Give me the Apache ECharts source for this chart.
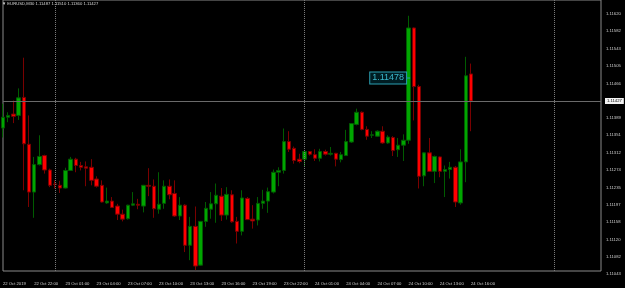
<!DOCTYPE html>
<html>
<head>
<meta charset="utf-8">
<script src="https://cdn.jsdelivr.net/npm/echarts@6/dist/echarts.min.js"></script>
<style>
  html, body { margin: 0; padding: 0; background: #000; }
  #chart { width: 625px; height: 288px; }
</style>
</head>
<body>
<div id="chart"></div>
<script>
const symbolName = 'EURUSD,M30';

// candles, 22 Oct 19:00 .. 24 Oct 16:00, 30 min bars
const opens = [
  1.11367, 1.11391, 1.11398, 1.11395, 1.11435, 1.11331, 1.11225, 1.11286, 1.11306, 1.11274,
  1.11243, 1.11240, 1.11234, 1.11273, 1.11298, 1.11284, 1.11281, 1.11280, 1.11254, 1.11240,
  1.11201, 1.11205, 1.11194, 1.11176, 1.11166, 1.11196, 1.11198, 1.11194, 1.11240, 1.11238,
  1.11187, 1.11200, 1.11238, 1.11222, 1.11172, 1.11196, 1.11107, 1.11149, 1.11063, 1.11160,
  1.11187, 1.11199, 1.11216, 1.11174, 1.11219, 1.11160, 1.11138, 1.11211, 1.11165, 1.11163,
  1.11200, 1.11205, 1.11225, 1.11269, 1.11273, 1.11337, 1.11322, 1.11298, 1.11298, 1.11315,
  1.11308, 1.11300, 1.11315, 1.11309, 1.11311, 1.11297, 1.11306, 1.11336, 1.11375, 1.11402,
  1.11364, 1.11351, 1.11349, 1.11360, 1.11334, 1.11346, 1.11319, 1.11329, 1.11340, 1.11589,
  1.11459, 1.11261, 1.11312, 1.11271, 1.11303, 1.11271, 1.11275, 1.11280, 1.11201, 1.11292,
  1.11487
];
const highs = [
  1.11421, 1.11402, 1.11428, 1.11455, 1.11523, 1.11395, 1.11303, 1.11351, 1.11308, 1.11277,
  1.11251, 1.11250, 1.11279, 1.11303, 1.11301, 1.11292, 1.11293, 1.11298, 1.11260, 1.11251,
  1.11235, 1.11214, 1.11199, 1.11186, 1.11197, 1.11225, 1.11210, 1.11241, 1.11278, 1.11253,
  1.11269, 1.11251, 1.11253, 1.11251, 1.11214, 1.11198, 1.11170, 1.11193, 1.11160, 1.11203,
  1.11225, 1.11244, 1.11234, 1.11236, 1.11229, 1.11170, 1.11229, 1.11214, 1.11196, 1.11214,
  1.11230, 1.11235, 1.11275, 1.11280, 1.11366, 1.11360, 1.11326, 1.11310, 1.11317, 1.11316,
  1.11320, 1.11321, 1.11319, 1.11325, 1.11312, 1.11314, 1.11363, 1.11378, 1.11410, 1.11404,
  1.11371, 1.11360, 1.11362, 1.11371, 1.11351, 1.11349, 1.11345, 1.11353, 1.11616, 1.11590,
  1.11463, 1.11313, 1.11345, 1.11306, 1.11304, 1.11284, 1.11292, 1.11283, 1.11320, 1.11525,
  1.11510
];
const lows = [
  1.11346, 1.11380, 1.11378, 1.11385, 1.11229, 1.11192, 1.11168, 1.11284, 1.11266, 1.11236,
  1.11233, 1.11223, 1.11233, 1.11272, 1.11269, 1.11273, 1.11238, 1.11240, 1.11235, 1.11202,
  1.11199, 1.11190, 1.11163, 1.11160, 1.11164, 1.11194, 1.11187, 1.11180, 1.11216, 1.11168,
  1.11177, 1.11188, 1.11209, 1.11170, 1.11163, 1.11092, 1.11074, 1.11052, 1.11062, 1.11148,
  1.11166, 1.11157, 1.11161, 1.11164, 1.11157, 1.11111, 1.11129, 1.11163, 1.11144, 1.11151,
  1.11188, 1.11179, 1.11222, 1.11238, 1.11266, 1.11314, 1.11288, 1.11289, 1.11281, 1.11306,
  1.11294, 1.11293, 1.11306, 1.11306, 1.11282, 1.11291, 1.11305, 1.11334, 1.11373, 1.11362,
  1.11341, 1.11345, 1.11348, 1.11332, 1.11332, 1.11305, 1.11303, 1.11294, 1.11332, 1.11384,
  1.11233, 1.11238, 1.11270, 1.11245, 1.11258, 1.11214, 1.11255, 1.11192, 1.11197, 1.11247,
  1.11360
];
const closes = [
  1.11391, 1.11395, 1.11393, 1.11434, 1.11332, 1.11225, 1.11286, 1.11304, 1.11274, 1.11240,
  1.11242, 1.11234, 1.11273, 1.11298, 1.11284, 1.11280, 1.11278, 1.11251, 1.11238, 1.11203,
  1.11205, 1.11191, 1.11176, 1.11165, 1.11196, 1.11199, 1.11196, 1.11240, 1.11238, 1.11188,
  1.11198, 1.11238, 1.11219, 1.11172, 1.11196, 1.11107, 1.11149, 1.11061, 1.11160, 1.11189,
  1.11199, 1.11218, 1.11174, 1.11220, 1.11159, 1.11138, 1.11212, 1.11164, 1.11161, 1.11200,
  1.11205, 1.11226, 1.11269, 1.11273, 1.11337, 1.11320, 1.11295, 1.11293, 1.11315, 1.11309,
  1.11300, 1.11315, 1.11309, 1.11311, 1.11298, 1.11308, 1.11337, 1.11377, 1.11402, 1.11364,
  1.11349, 1.11352, 1.11360, 1.11334, 1.11347, 1.11317, 1.11329, 1.11340, 1.11589, 1.11459,
  1.11260, 1.11312, 1.11271, 1.11304, 1.11271, 1.11275, 1.11280, 1.11203, 1.11292, 1.11483,
  1.11427
];

const xTickTimes = [
  '22 Oct 19:00', '22 Oct 22:00', '23 Oct 01:00', '23 Oct 04:00', '23 Oct 07:00', '23 Oct 10:00',
  '23 Oct 13:00', '23 Oct 16:00', '23 Oct 19:00', '23 Oct 22:00', '24 Oct 01:00', '24 Oct 04:00',
  '24 Oct 07:00', '24 Oct 10:00', '24 Oct 13:00', '24 Oct 16:00'
];
const firstTickLabel = '22 Oct 2019';
const separators = ['23 Oct 00:00', '24 Oct 00:00', '25 Oct 00:00'];

const yTicks = [
  1.11082, 1.11120, 1.11158, 1.11197, 1.11235, 1.11274, 1.11312, 1.11351,
  1.11389, 1.11428, 1.11466, 1.11505, 1.11543, 1.11582, 1.11620
];
const yBottomLabel = '1.11043';
const priceLabel = 1.11478;

// time slots incl. empty space right of the last bar
const months = ['Jan', 'Feb', 'Mar', 'Apr', 'May', 'Jun', 'Jul', 'Aug', 'Sep', 'Oct', 'Nov', 'Dec'];
const startTime = Date.UTC(2019, 9, 22, 19, 0);
const slotCount = 116;
const pad = (n) => String(n).padStart(2, '0');
const slots = [];
for (let i = 0; i < slotCount; i += 1) {
  const d = new Date(startTime + i * 30 * 60000);
  slots.push(`${d.getUTCDate()} ${months[d.getUTCMonth()]} ${pad(d.getUTCHours())}:${pad(d.getUTCMinutes())}`);
}

const candles = opens.map((o, i) => [o, closes[i], lows[i], highs[i]]);
const lastIndex = candles.length - 1;
const fmt = (v) => v.toFixed(5);
const titleText = `\u25BC ${symbolName} ${fmt(opens[lastIndex])} ${fmt(highs[lastIndex])} ${fmt(lows[lastIndex])} ${fmt(closes[lastIndex])}`;

const chart = echarts.init(document.getElementById('chart'));

chart.setOption({
  animation: false,
  backgroundColor: '#000000',
  textStyle: { fontFamily: 'Liberation Sans' },
  title: {
    text: titleText,
    left: 2,
    top: 2,
    padding: 0,
    textStyle: { color: '#d8d8d8', fontSize: 4.2, fontWeight: 'normal', fontFamily: 'Liberation Sans' }
  },
  grid: {
    left: 1,
    right: 24,
    top: -1,
    bottom: 17,
    show: true,
    borderColor: '#8a8a8a',
    borderWidth: 1,
    backgroundColor: 'transparent'
  },
  xAxis: {
    type: 'category',
    data: slots,
    boundaryGap: false,
    axisLine: { show: false },
    axisTick: { show: false },
    splitLine: { show: false },
    axisLabel: {
      color: '#cfcfcf',
      fontSize: 4.2,
      align: 'left',
      margin: 11,
      interval: (index, value) => xTickTimes.includes(value),
      formatter: (value) => (value === xTickTimes[0] ? firstTickLabel : value)
    }
  },
  yAxis: {
    type: 'value',
    position: 'right',
    min: 1.11050,
    max: 1.11651,
    scale: true,
    axisLine: { show: false },
    axisTick: { show: false },
    splitLine: { show: false },
    axisLabel: {
      color: '#cfcfcf',
      fontSize: 4.2,
      margin: 5,
      customValues: yTicks,
      formatter: (v) => v.toFixed(5)
    },
    name: yBottomLabel,
    nameLocation: 'start',
    nameGap: 3,
    nameTextStyle: { color: '#cfcfcf', fontSize: 4.2, align: 'left', verticalAlign: 'middle', padding: [0, 0, 0, 5] }
  },
  series: [
    {
      type: 'candlestick',
      data: candles,
      barWidth: 4,
      itemStyle: {
        color: '#00a600',
        color0: '#ff0000',
        borderColor: '#005c00',
        borderColor0: '#7a0000',
        borderWidth: 1
      },
      markLine: {
        silent: true,
        symbol: 'none',
        precision: 5,
        animation: false,
        data: [
          {
            yAxis: closes[lastIndex],
            lineStyle: { color: '#6a6a6a', width: 1, type: 'solid' },
            label: {
              show: true,
              position: 'end',
              distance: 4,
              formatter: () => fmt(closes[lastIndex]),
              color: '#000000',
              backgroundColor: '#f2f2f2',
              fontSize: 4.2,
              padding: [1, 2]
            }
          },
          ...separators.map((t) => ({
            xAxis: t,
            lineStyle: { color: '#7a7a7a', width: 1, type: 'dotted' },
            label: { show: false }
          }))
        ]
      },
      markPoint: {
        silent: true,
        symbol: 'rect',
        symbolSize: [3, 1],
        itemStyle: { color: '#2a9fb2' },
        data: [
          {
            coord: [slots[78], priceLabel],
            label: {
              show: true,
              position: 'left',
              distance: 1,
              formatter: () => fmt(priceLabel),
              color: '#3bb8cc',
              fontSize: 9,
              backgroundColor: '#001c22',
              borderColor: '#2a9fb2',
              borderWidth: 1,
              padding: [1, 2]
            }
          }
        ]
      }
    }
  ]
});
</script>
</body>
</html>
